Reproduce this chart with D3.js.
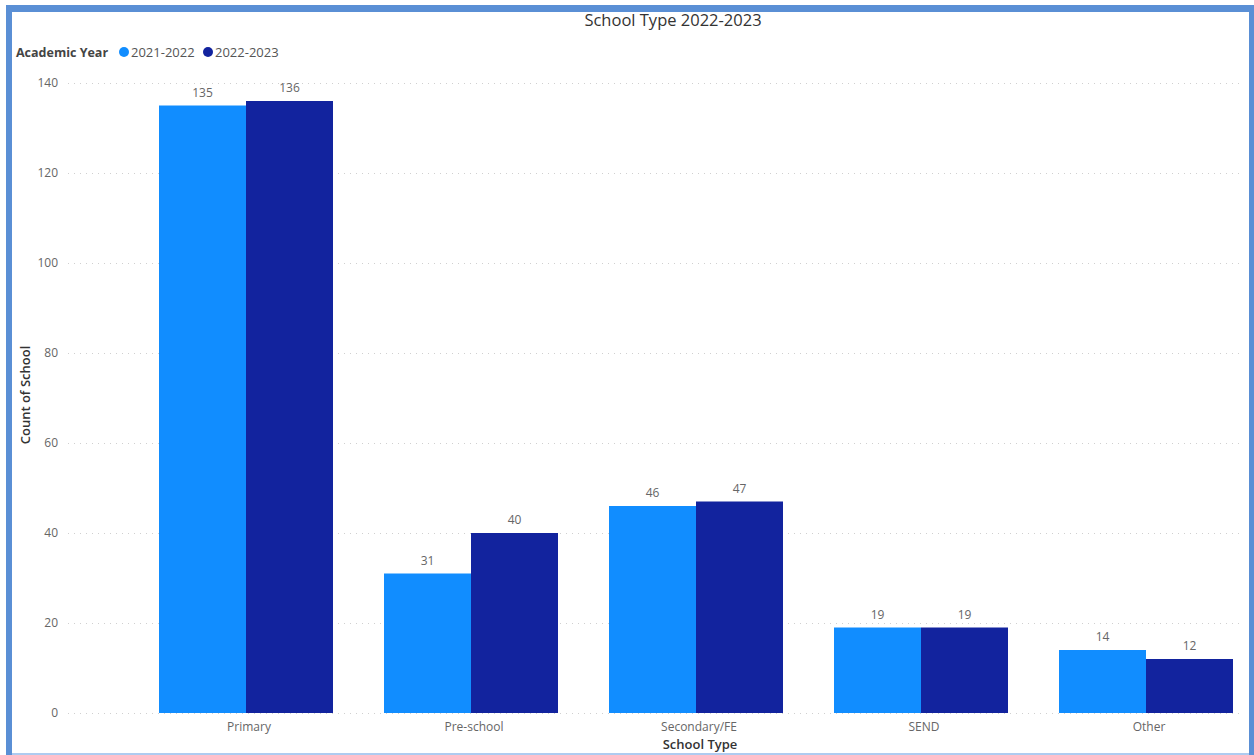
<!DOCTYPE html>
<html>
<head>
<meta charset="utf-8">
<script src="https://cdn.jsdelivr.net/npm/d3@7"></script>
<style>
  html, body { margin: 0; padding: 0; background: #ffffff; }
  svg { display: block; }
  text { font-family: "Open Sans", "Noto Sans", sans-serif; }
</style>
</head>
<body>
<svg id="chart" width="1254" height="755"></svg>
<script>
// Chart data
const categories = ["Primary", "Pre-school", "Secondary/FE", "SEND", "Other"];
const seriesNames = ["2021-2022", "2022-2023"];
const values2021 = [135, 31, 46, 19, 14];
const values2022 = [136, 40, 47, 19, 12];
const yTicks = [0, 20, 40, 60, 80, 100, 120, 140];
const colors = ["#118DFF", "#12239E"];

const seriesValues = [values2021, values2022];

const svg = d3.select("#chart");
const W = 1254, H = 755;

// Report frame
svg.append("rect").attr("x", 0).attr("y", 0).attr("width", W).attr("height", H).attr("fill", "#ffffff");
svg.append("rect").attr("x", 6).attr("y", 5).attr("width", 1248).attr("height", 7).attr("fill", "#5A8FD5");
svg.append("rect").attr("x", 6).attr("y", 5).attr("width", 6).attr("height", 750).attr("fill", "#5A8FD5");
svg.append("rect").attr("x", 1249).attr("y", 5).attr("width", 5).attr("height", 750).attr("fill", "#5A8FD5");
svg.append("rect").attr("x", 12).attr("y", 753).attr("width", 1237).attr("height", 2).attr("fill", "#AECBF0");

// Scales
const y = d3.scaleLinear().domain([0, 140]).range([713, 83]);
const x0 = d3.scaleBand().domain(categories).range([133.5, 1258.5])
  .paddingInner(51 / 225).paddingOuter(51 / 450);
const x1 = d3.scaleBand().domain(seriesNames).range([0, x0.bandwidth()]);

// Gridlines
const grid = svg.append("g");
grid.selectAll("line").data(yTicks).join("line")
  .attr("x1", 68).attr("x2", 1240)
  .attr("y1", d => Math.round(y(d)) + 0.5).attr("y2", d => Math.round(y(d)) + 0.5)
  .attr("stroke", "#D0D0D0").attr("stroke-width", 1).attr("stroke-dasharray", "1,5");

// Y axis labels
const yAxis = d3.axisLeft(y).tickValues(yTicks).tickSize(0).tickPadding(0);
const gy = svg.append("g").attr("transform", "translate(58,0)").call(yAxis);
gy.select(".domain").remove();
gy.selectAll("text").attr("font-size", 12).attr("fill", "#666666")
  .attr("font-family", "'Open Sans', sans-serif");

// X axis labels
const xAxis = d3.axisBottom(x0).tickSize(0).tickPadding(0);
const gx = svg.append("g").attr("transform", "translate(3,722)").call(xAxis);
gx.select(".domain").remove();
gx.selectAll("text").attr("font-size", 12).attr("fill", "#666666")
  .attr("font-family", "'Open Sans', sans-serif");

// Bars
const groups = svg.append("g").selectAll("g").data(categories).join("g")
  .attr("transform", d => `translate(${x0(d)},0)`);

groups.selectAll("rect")
  .data((c, i) => seriesNames.map((s, j) => ({ s, v: seriesValues[j][i], j })))
  .join("rect")
  .attr("x", d => x1(d.s))
  .attr("y", d => y(d.v))
  .attr("width", x1.bandwidth())
  .attr("height", d => y(0) - y(d.v))
  .attr("fill", d => colors[d.j]);

// Data labels
groups.selectAll("text.val")
  .data((c, i) => seriesNames.map((s, j) => ({ s, v: seriesValues[j][i], j })))
  .join("text")
  .attr("class", "val")
  .attr("x", d => x1(d.s) + x1.bandwidth() / 2)
  .attr("y", d => y(d.v) - 9)
  .attr("text-anchor", "middle")
  .attr("font-size", 12).attr("fill", "#666666")
  .text(d => d.v);

// Title
svg.append("text").attr("x", 673).attr("y", 26).attr("text-anchor", "middle")
  .attr("font-size", 16.5).attr("font-weight", 500).attr("fill", "#333333")
  .attr("font-family", "Roboto, sans-serif")
  .text("School Type 2022-2023");

// Legend
const legend = svg.append("g");
legend.append("text").attr("x", 16).attr("y", 57).attr("font-size", 12.5)
  .attr("font-weight", "bold").attr("fill", "#444444").text("Academic Year");
const legendPos = [{ cx: 124, tx: 131 }, { cx: 208, tx: 215 }];
seriesNames.forEach((s, j) => {
  legend.append("circle").attr("cx", legendPos[j].cx).attr("cy", 52).attr("r", 5).attr("fill", colors[j]);
  legend.append("text").attr("x", legendPos[j].tx).attr("y", 57).attr("font-size", 13)
    .attr("fill", "#555555").text(s);
});

// Axis titles
svg.append("text").attr("transform", "translate(30,395) rotate(-90)")
  .attr("text-anchor", "middle").attr("font-size", 13).attr("font-weight", "600")
  .attr("fill", "#333333").text("Count of School");
svg.append("text").attr("x", 700).attr("y", 749).attr("text-anchor", "middle")
  .attr("font-size", 13).attr("font-weight", "600").attr("fill", "#333333").text("School Type");
</script>
</body>
</html>
